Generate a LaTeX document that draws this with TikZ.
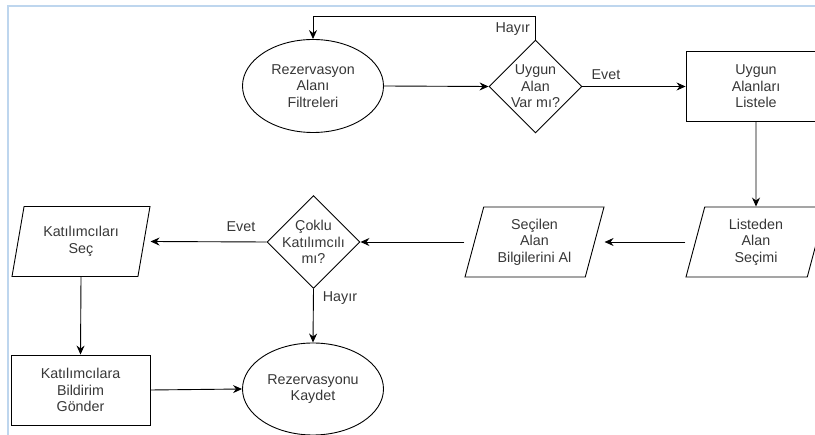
\documentclass[tikz,border=0pt]{standalone}
\usepackage{fontspec}
\setmainfont{Liberation Sans}
\usepackage{tikz}
\usetikzlibrary{shapes.geometric,arrows.meta}
\definecolor{frameblue}{RGB}{190,214,238}
\definecolor{txtgray}{RGB}{55,55,55}

\tikzset{
	box/.style={draw, line width=0.9pt, rectangle, align=center, text=txtgray,
		minimum width=139pt, minimum height=70pt, inner sep=0pt},
	oval/.style={draw, line width=0.9pt, ellipse, align=center, text=txtgray,
		minimum width=141pt, minimum height=93pt, inner sep=0pt},
	choice/.style={draw, line width=0.9pt, diamond, align=center, text=txtgray,
		minimum size=93pt, inner sep=-8pt},
	iobox/.style={draw, line width=0.9pt, trapezium, trapezium left angle=68,
		trapezium right angle=112, trapezium stretches body, align=center, text=txtgray,
		minimum width=139pt, minimum height=70pt, inner sep=0pt},
	arr/.style={draw, line width=0.9pt, -{Stealth[length=9pt,width=8pt,inset=3pt]}},
	tag/.style={text=txtgray, inner sep=0pt}
}

\begin{document}
\begin{tikzpicture}[x=1pt,y=-1pt,font=\fontsize{14.3}{16.5}\selectfont]
	\clip (0,0) rectangle (815,435);
	\useasboundingbox (0,0) rectangle (815,435);
	\draw[frameblue, line width=2pt] (8,435) -- (8,6) -- (815,6);

	\node[oval] (filt) at (313,86) {Rezervasyon\\Alanı\\Filtreleri};
	\node[choice] (uygun) at (535.5,86.5) {Uygun\\Alan\\Var mı?};
	\node[box, minimum width=140pt] (liste) at (756,86.5) {Uygun\\Alanları\\Listele};
	\node[iobox, minimum width=140pt] (secim) at (756,242) {Listeden\\Alan\\Seçimi};
	\node[iobox] (bilgi) at (534.5,242) {Seçilen\\Alan\\Bilgilerini Al};
	\node[choice] (coklu) at (313.5,242) {Çoklu\\Katılımcılı\\mı?};
	\node[iobox, minimum width=138pt] (katsec) at (81,241.5) {Katılımcıları\\Seç};
	\node[box] (bildir) at (80.5,390) {Katılımcılara\\Bildirim\\Gönder};
	\node[oval, minimum height=92pt] (kaydet) at (313,389) {Rezervasyonu\\Kaydet};

	\coordinate (donus) at (535.5,16);

	\draw[arr] (filt.east) -- (uygun.west);
	\draw[arr] (uygun.north) -- (donus) -| (filt.north);
	\node[tag, anchor=east] (hayir1) at (530,29) {Hayır};
	\draw[arr] (uygun.east) -- (liste.west);
	\node[tag] (evet1) at (606,75) {Evet};
	\draw[arr] (liste.south) -- (secim.north);
	\draw[arr] (secim.bottom left corner |- secim.center) -- (bilgi.top right corner |- bilgi.center);
	\draw[arr] (bilgi.bottom left corner |- bilgi.center) -- (coklu.east);
	\draw[arr] (coklu.west) -- (katsec.top right corner |- katsec.center);
	\node[tag] (evet2) at (241,227) {Evet};
	\draw[arr] (katsec.south) -- (bildir.north);
	\draw[arr] (coklu.south) -- (kaydet.north);
	\node[tag] (hayir2) at (340,298) {Hayır};
	\draw[arr] (bildir.east) -- (kaydet.west);
\end{tikzpicture}
\end{document}
